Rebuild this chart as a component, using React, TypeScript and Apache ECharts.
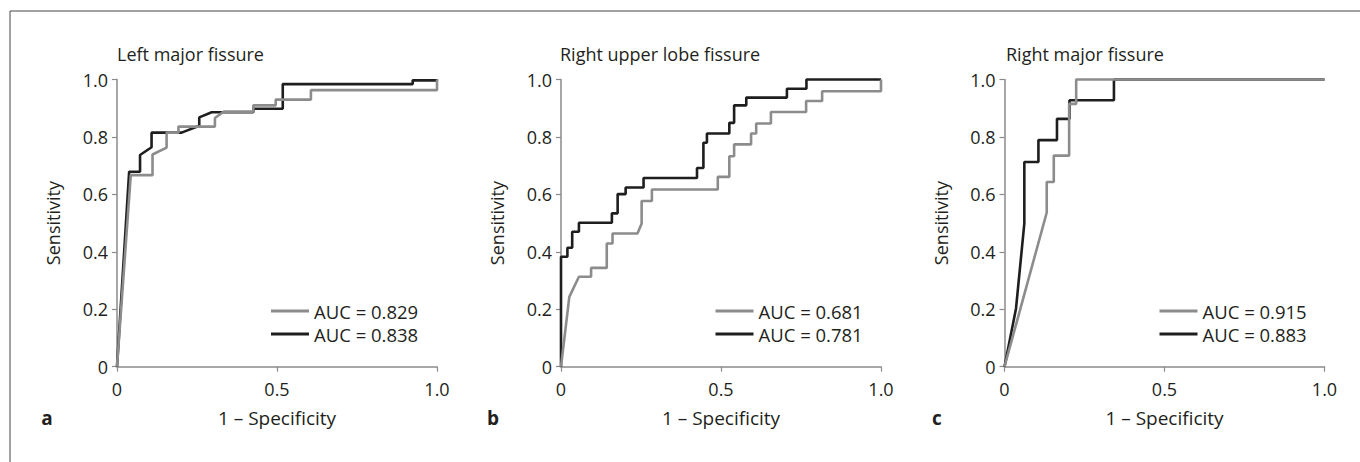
import React, { useEffect, useRef } from "react";
import * as echarts from "echarts";

const panelTitles = ["Left major fissure", "Right upper lobe fissure", "Right major fissure"];
const panelLetters = ["a", "b", "c"];
const grayNames = ["AUC = 0.829", "AUC = 0.681", "AUC = 0.915"];
const blackNames = ["AUC = 0.838", "AUC = 0.781", "AUC = 0.883"];

const grayA = [[0,0],[0.043,0.667],[0.111,0.667],[0.111,0.739],[0.155,0.763],[0.155,0.815],[0.192,0.815],[0.192,0.836],[0.306,0.836],[0.306,0.866],[0.334,0.888],[0.426,0.888],[0.426,0.910],[0.496,0.910],[0.496,0.930],[0.606,0.930],[0.606,0.963],[1,0.963],[1,1]];
const blackA = [[0,0],[0.038,0.679],[0.072,0.679],[0.072,0.737],[0.108,0.764],[0.108,0.815],[0.202,0.815],[0.257,0.839],[0.257,0.868],[0.296,0.886],[0.426,0.886],[0.426,0.898],[0.518,0.898],[0.518,0.984],[0.924,0.984],[0.924,0.997],[1,0.997],[1,1]];
const grayB = [[0,0],[0.026,0.243],[0.056,0.313],[0.094,0.313],[0.094,0.344],[0.143,0.344],[0.143,0.429],[0.161,0.429],[0.161,0.464],[0.239,0.464],[0.252,0.499],[0.252,0.577],[0.284,0.577],[0.284,0.617],[0.490,0.617],[0.490,0.661],[0.526,0.661],[0.526,0.733],[0.541,0.733],[0.541,0.774],[0.594,0.774],[0.594,0.812],[0.610,0.812],[0.610,0.847],[0.656,0.847],[0.656,0.887],[0.766,0.887],[0.766,0.925],[0.816,0.925],[0.816,0.959],[1,0.959],[1,1]];
const blackB = [[0,0],[0,0.383],[0.020,0.383],[0.020,0.414],[0.035,0.414],[0.035,0.470],[0.056,0.470],[0.056,0.501],[0.159,0.501],[0.159,0.534],[0.177,0.534],[0.177,0.601],[0.202,0.601],[0.202,0.624],[0.258,0.624],[0.258,0.657],[0.425,0.657],[0.425,0.692],[0.445,0.692],[0.445,0.780],[0.456,0.780],[0.456,0.812],[0.526,0.812],[0.526,0.849],[0.541,0.849],[0.541,0.910],[0.579,0.910],[0.579,0.937],[0.706,0.937],[0.706,0.968],[0.767,0.968],[0.767,1],[1,1]];
const grayC = [[0,0],[0.132,0.537],[0.132,0.643],[0.154,0.643],[0.154,0.735],[0.202,0.735],[0.202,0.915],[0.224,0.915],[0.224,1],[1,1]];
const blackC = [[0,0],[0.036,0.203],[0.062,0.499],[0.062,0.713],[0.106,0.713],[0.106,0.789],[0.164,0.789],[0.164,0.863],[0.203,0.863],[0.203,0.928],[0.342,0.928],[0.342,1],[1,1]];

const grayData = [grayA, grayB, grayC];
const blackData = [blackA, blackB, blackC];

const FONT = "'Open Sans', 'Noto Sans', sans-serif";
const TEXT = "#231f20";
const AXIS = "#8a8a8a";
const GRAY = "#8c8c8c";
const BLACK = "#1e1e1e";

const gridLefts = [117, 561, 1004.5];
const titleLefts = [117, 560, 1006];
const legendLefts = [271, 715.5, 1159.5];
const letterX = [47, 493, 937];
const GRID_TOP = 79.5;
const GRID_H = 287.2;
const GRID_W = 320;

export default function App() {
  const ref = useRef<HTMLDivElement>(null);
  useEffect(() => {
    if (!ref.current) return;
    const chart = echarts.init(ref.current, null, { renderer: "svg" });
    const fmt = (v: number) => (v === 0 ? "0" : v.toFixed(1));
    const grid: any[] = [];
    const xAxis: any[] = [];
    const yAxis: any[] = [];
    const series: any[] = [];
    const legend: any[] = [];
    const title: any[] = [];
    const graphic: any[] = [
      { type: "line", shape: { x1: 10, y1: 11, x2: 1360, y2: 11 }, style: { stroke: "#444", lineWidth: 1 } },
      { type: "line", shape: { x1: 10, y1: 11, x2: 10, y2: 462 }, style: { stroke: "#444", lineWidth: 1 } },
    ];
    for (let i = 0; i < 3; i++) {
      grid.push({ left: gridLefts[i], top: GRID_TOP, width: GRID_W, height: GRID_H, containLabel: false, outerBoundsMode: "none" });
      xAxis.push({
        type: "value", gridIndex: i, min: 0, max: 1, interval: 0.5,
        name: "1 – Specificity", nameLocation: "middle", nameGap: 42,
        nameTextStyle: { fontFamily: FONT, fontSize: 19, color: TEXT },
        axisLine: { show: true, lineStyle: { color: AXIS, width: 1.5 } },
        axisTick: { show: true, length: 5, lineStyle: { color: AXIS, width: 1.2 } },
        axisLabel: { formatter: fmt, margin: 13, fontFamily: FONT, fontSize: 18, color: TEXT, showMinLabel: true, showMaxLabel: true },
        splitLine: { show: false },
      });
      yAxis.push({
        type: "value", gridIndex: i, min: 0, max: 1, interval: 0.2,
        name: "Sensitivity", nameLocation: "middle", nameGap: 55,
        nameTextStyle: { fontFamily: FONT, fontSize: 18, color: TEXT },
        axisLine: { show: true, lineStyle: { color: AXIS, width: 1.5 } },
        axisTick: { show: true, length: 5, lineStyle: { color: AXIS, width: 1.2 } },
        axisLabel: { formatter: fmt, margin: 9, fontFamily: FONT, fontSize: 18, color: TEXT },
        splitLine: { show: false },
      });
      series.push({
        type: "line", name: blackNames[i], xAxisIndex: i, yAxisIndex: i, data: blackData[i],
        showSymbol: false, symbol: "none", clip: false, color: BLACK,
        lineStyle: { color: BLACK, width: 2.6 }, itemStyle: { color: BLACK },
      });
      series.push({
        type: "line", name: grayNames[i], xAxisIndex: i, yAxisIndex: i, data: grayData[i],
        showSymbol: false, symbol: "none", clip: false, color: GRAY,
        lineStyle: { color: GRAY, width: 2.6 }, itemStyle: { color: GRAY },
      });
      legend.push({
        data: [grayNames[i], blackNames[i]], orient: "vertical", left: legendLefts[i], top: 299.5,
        padding: 0, itemGap: 0, itemWidth: 38, itemHeight: 3, itemTextGap: 10, icon: "rect",
        selectedMode: false,
        textStyle: { fontFamily: FONT, fontSize: 18.5, color: TEXT, lineHeight: 23 },
      });
      title.push({
        text: panelTitles[i], left: titleLefts[i], top: 45, padding: 0,
        textStyle: { fontFamily: FONT, fontSize: 18, fontWeight: "normal", color: TEXT },
      });
      graphic.push({
        type: "text", x: letterX[i], y: 418,
        style: { text: panelLetters[i], fontFamily: FONT, fontSize: 19, fontWeight: "bold", fill: TEXT, textAlign: "center", textVerticalAlign: "middle" },
      });
    }
    chart.setOption({ animation: false, backgroundColor: "#fff", grid, xAxis, yAxis, series, legend, title, graphic });
    return () => chart.dispose();
  }, []);
  return <div ref={ref} style={{ position: "absolute", left: 0, top: 0, width: 1360, height: 462 }} />;
}
